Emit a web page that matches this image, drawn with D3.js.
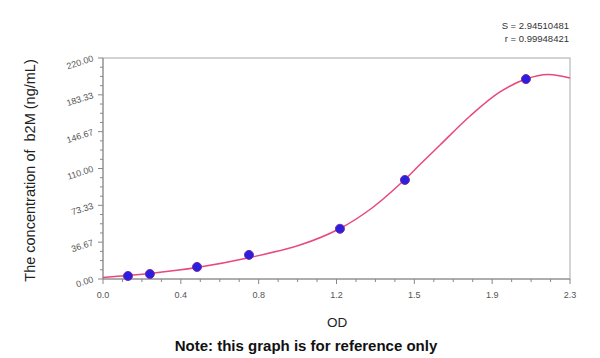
<!DOCTYPE html>
<html><head><meta charset="utf-8">
<script src="https://cdn.jsdelivr.net/npm/d3@7"></script>
<style>body{margin:0;background:#fff}svg{display:block}</style>
</head><body>
<svg id="c" width="600" height="358"></svg>
<script>
const odValues = [0.123, 0.231, 0.463, 0.719, 1.167, 1.487, 2.083];
const concValues = [3.0, 5.0, 12.0, 24.0, 50.0, 98.6, 199.0];
// fitted curve
const curveOD =   [0.0, 0.123, 0.232, 0.463, 0.724, 0.970, 1.167, 1.325, 1.492, 1.561, 1.660, 1.808, 1.955, 2.083, 2.192, 2.3];
const curveConc = [1.5, 3.5,   5.5,   11.4,  21.4,  33.8,  50.3,  70.7,  100.0, 114.0, 133.4, 162.3, 186.2, 199.1, 203.6, 200.1];
const xTickLabels = ["0.0","0.4","0.8","1.2","1.5","1.9","2.3"];
const yTickLabels = ["0.00","36.67","73.33","110.00","146.67","183.33","220.00"];
const statsLines = ["S = 2.94510481","r = 0.99948421"];
const xMax = 2.3, yMax = 220;

const svg = d3.select("#c");
const L = 103, R = 570, T = 58, B = 279;
const x = d3.scaleLinear().domain([0, xMax]).range([L, R]);
const y = d3.scaleLinear().domain([0, yMax]).range([B, T]);
const FONT = "Liberation Sans, Arial, sans-serif";

// frame
svg.append("rect").attr("x",L).attr("y",T).attr("width",R-L).attr("height",B-T)
  .attr("fill","none").attr("stroke","#a8a8a8").attr("stroke-width",1);

const xTicks = d3.range(0,7).map(i=>i*xMax/6);
const yTicks = d3.range(0,7).map(i=>i*yMax/6);
const xMinor = d3.range(0,25).map(i=>i*xMax/24);
const yMinor = d3.range(0,25).map(i=>i*yMax/24);

const gx = svg.append("g").attr("transform",`translate(0,${B})`);
gx.append("line").attr("x1",L).attr("x2",R).attr("stroke","#888");
gx.selectAll(".mn").data(xMinor).join("line").attr("x1",d=>x(d)).attr("x2",d=>x(d))
  .attr("y1",0).attr("y2",(d,i)=>i%4===0?5:3).attr("stroke","#888");
gx.selectAll("text").data(xTicks).join("text").attr("x",d=>x(d)).attr("y",19)
  .attr("text-anchor","middle").attr("font-family",FONT).attr("font-size",9)
  .attr("fill","#555").text((d,i)=>xTickLabels[i]);

const gy = svg.append("g").attr("transform",`translate(${L},0)`);
gy.append("line").attr("y1",T).attr("y2",B).attr("stroke","#888");
gy.selectAll(".mn").data(yMinor).join("line").attr("y1",d=>y(d)).attr("y2",d=>y(d))
  .attr("x1",0).attr("x2",(d,i)=>i%4===0?-5:-3).attr("stroke","#888");
gy.selectAll("text").data(yTicks).join("text")
  .attr("transform",d=>`translate(-9,${y(d)+3}) rotate(-18)`)
  .attr("text-anchor","end").attr("font-family",FONT).attr("font-size",9)
  .attr("fill","#555").text((d,i)=>yTickLabels[i]);

// curve
svg.append("path").datum(curveOD.map((d,i)=>[d,curveConc[i]]))
  .attr("d", d3.line().x(d=>x(d[0])).y(d=>y(d[1])).curve(d3.curveCatmullRom.alpha(0.5)))
  .attr("fill","none").attr("stroke","#e8487a").attr("stroke-width",1.5);

// points
svg.selectAll(".pt").data(odValues).join("circle")
  .attr("cx",d=>x(d)).attr("cy",(d,i)=>y(concValues[i])).attr("r",4.5)
  .attr("fill","#2a1fe0").attr("stroke","#7a2aa0").attr("stroke-width",1);

// stats
svg.selectAll(".st").data(statsLines).join("text")
  .attr("x",569).attr("y",(d,i)=>29+i*13).attr("text-anchor","end")
  .attr("font-family",FONT).attr("font-size",9.5).attr("fill","#333").text(d=>d);

// titles
svg.append("text").attr("transform",`translate(35,${(T+B)/2+2}) rotate(-90)`)
  .attr("text-anchor","middle").attr("font-family",FONT).attr("font-size",14.5)
  .style("white-space","pre")
  .attr("fill","#222").text("The concentration of  b2M (ng/mL)");
svg.append("text").attr("x",337).attr("y",327).attr("text-anchor","middle")
  .attr("font-family",FONT).attr("font-size",13.5).attr("fill","#222").text("OD");
svg.append("text").attr("x",306).attr("y",351).attr("text-anchor","middle")
  .attr("font-family",FONT).attr("font-weight","bold").attr("font-size",15)
  .attr("fill","#111").text("Note: this graph is for reference only");
</script>
</body></html>
